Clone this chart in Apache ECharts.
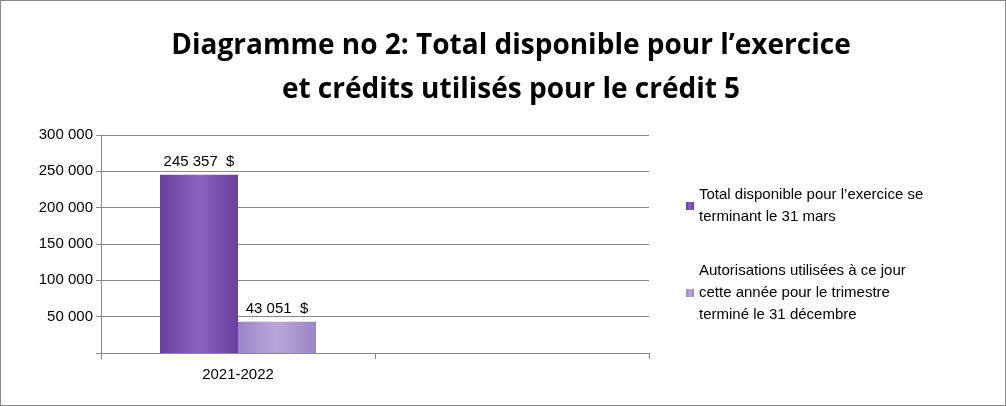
<!DOCTYPE html>
<html><head><meta charset="utf-8">
<script src="https://cdn.jsdelivr.net/npm/echarts@6/dist/echarts.min.js"></script>
<style>html,body{margin:0;padding:0;background:#fff}#c{width:1006px;height:406px;box-sizing:border-box;border:1px solid #888}</style>
</head><body><div id="c"></div>
<script>
const categories = ['2021-2022', ''];
const seriesNames = ['Total disponible pour l\u2019exercice se\nterminant le 31 mars',
  'Autorisations utilis\u00e9es \u00e0 ce jour\ncette ann\u00e9e pour le trimestre\ntermin\u00e9 le 31 d\u00e9cembre'];
const totalDisponible = [245357, null];
const autorisations = [43051, null];
const fmt = v => String(v).replace(/\B(?=(\d{3})+(?!\d))/g, ' ');
const font = 'Liberation Sans';
const chart = echarts.init(document.getElementById('c'));
const grad = (a,b) => new echarts.graphic.LinearGradient(0,0,1,0,[{offset:0,color:a},{offset:0.5,color:b},{offset:1,color:a}]);
chart.setOption({
  animation:false,
  textStyle:{fontFamily:font},
  title:{text:'Diagramme no 2: Total disponible pour l\u2019exercice\net cr\u00e9dits utilis\u00e9s pour le cr\u00e9dit 5',
    left:505, textAlign:'center', top:18,
    textStyle:{fontFamily:'Open Sans',fontWeight:'bold',fontSize:28,lineHeight:44,color:'#000'}},
  grid:{left:100,right:356,top:134,bottom:52},
  legend:{orient:'vertical',left:680,top:178,itemGap:32,icon:'rect',itemWidth:8,itemHeight:8,
    textStyle:{fontSize:15,lineHeight:22,color:'#000',fontFamily:font},data:seriesNames},
  xAxis:{type:'category',data:categories,
    axisLine:{lineStyle:{color:'#888'}},axisTick:{show:true,length:6,lineStyle:{color:'#888'}},
    axisLabel:{fontSize:15,color:'#000',margin:14}},
  yAxis:{type:'value',min:0,max:300000,interval:50000,
    axisLine:{show:true,lineStyle:{color:'#888'}},axisTick:{show:true,length:5,lineStyle:{color:'#888'}},
    splitLine:{lineStyle:{color:'#888'}},
    axisLabel:{fontSize:15,color:'#000',formatter:v=>v===0?'':fmt(v)}},
  series:[
    {name:seriesNames[0],type:'bar',data:totalDisponible,barWidth:78,barGap:'0%',
     itemStyle:{color:grad('#6A3F9E','#8A64BE')},
     label:{show:true,position:'top',fontSize:15,color:'#000',formatter:p=>fmt(p.value)+'  $'}},
    {name:seriesNames[1],type:'bar',data:autorisations,barWidth:78,
     itemStyle:{color:grad('#9A85C4','#B8A8DA')},
     label:{show:true,position:'top',fontSize:15,color:'#000',formatter:p=>fmt(p.value)+'  $'}}
  ]
});
</script></body></html>
